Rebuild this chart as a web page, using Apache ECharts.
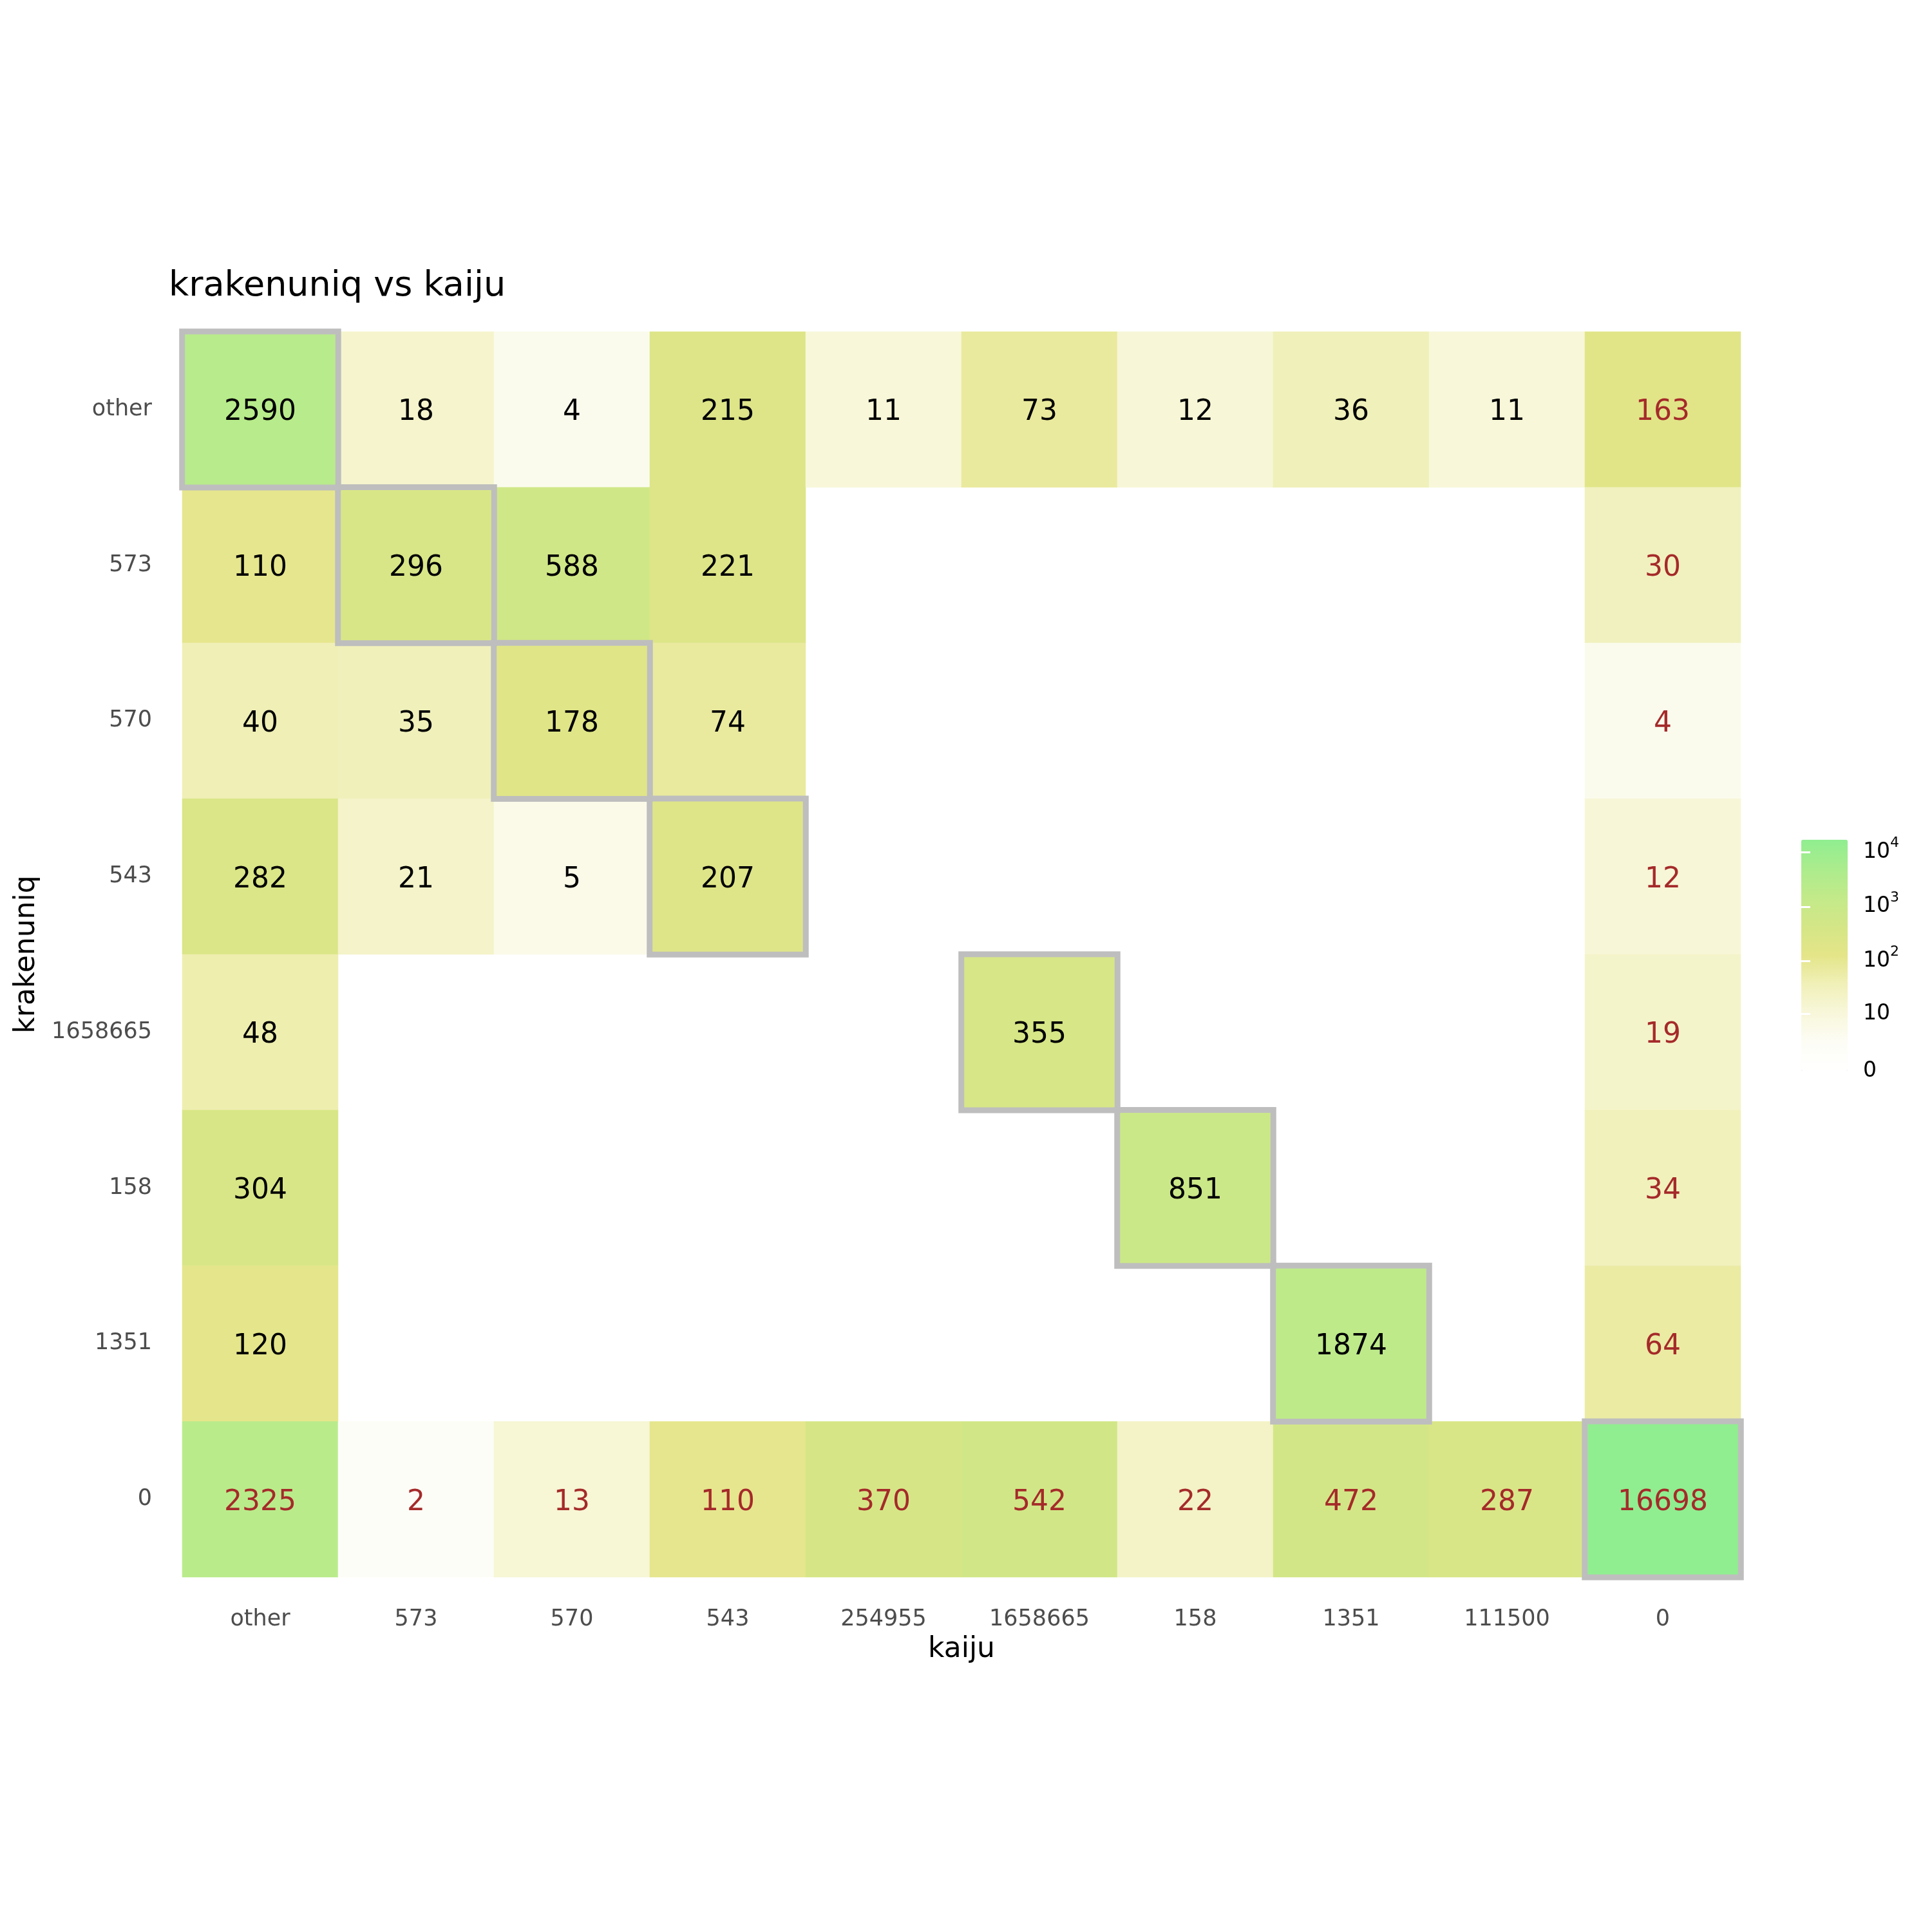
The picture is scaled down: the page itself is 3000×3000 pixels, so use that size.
<!DOCTYPE html>
<html>
<head>
<meta charset="utf-8">
<script src="https://cdn.jsdelivr.net/npm/echarts@6/dist/echarts.min.js"></script>
<style>
  html, body { margin: 0; padding: 0; background: #fff; }
  #chart { width: 3000px; height: 3000px; }
</style>
</head>
<body>
<div id="chart"></div>
<script>
// categories
var xCats = ['other', '573', '570', '543', '254955', '1658665', '158', '1351', '111500', '0'];
var yCats = ['other', '573', '570', '543', '1658665', '158', '1351', '0'];

// counts per krakenuniq row (null = no tile)
var rowOther   = [2590, 18, 4, 215, 11, 73, 12, 36, 11, 163];
var row573     = [110, 296, 588, 221, null, null, null, null, null, 30];
var row570     = [40, 35, 178, 74, null, null, null, null, null, 4];
var row543     = [282, 21, 5, 207, null, null, null, null, null, 12];
var row1658665 = [48, null, null, null, null, 355, null, null, null, 19];
var row158     = [304, null, null, null, null, null, 851, null, null, 34];
var row1351    = [120, null, null, null, null, null, null, 1874, null, 64];
var row0       = [2325, 2, 13, 110, 370, 542, 22, 472, 287, 16698];
var rows = [rowOther, row573, row570, row543, row1658665, row158, row1351, row0];

// legend ticks
var legendLabels = ['0', '10', '10^2', '10^3', '10^4'];
var legendCounts = [0, 10, 100, 1000, 10000];

var colorStops = ['#FFFFFF', '#FDFDF6', '#F8F7DB', '#F0F0B9', '#E4E588',
                  '#D4E687', '#C3EA89', '#ABEC8D', '#90EE90'];

function tr(v) { return Math.log10(v + 1); }

var cells = [];
var frames = [];
var maxT = 0;
for (var r = 0; r < rows.length; r++) {
    for (var c = 0; c < xCats.length; c++) {
        var v = rows[r][c];
        if (v === null) continue;
        var t = tr(v);
        if (t > maxT) maxT = t;
        var brown = (xCats[c] === '0' || yCats[r] === '0');
        cells.push({
            value: [c, r, t, v],
            label: { color: brown ? '#A52A2A' : '#000000' }
        });
        if (xCats[c] === yCats[r]) frames.push([c, r, t]);
    }
}

var legendPos = legendCounts.map(tr);
var legendMap = {};
legendPos.forEach(function (p, i) { legendMap[p.toFixed(6)] = legendLabels[i]; });

var chart = echarts.init(document.getElementById('chart'));
chart.setOption({
    animation: false,
    backgroundColor: '#ffffff',
    textStyle: { fontFamily: 'DejaVu Sans' },
    title: {
        text: 'krakenuniq vs kaiju',
        left: 257, top: 413,
        textStyle: { fontSize: 54, fontWeight: 'normal', color: '#000', fontFamily: 'DejaVu Sans' }
    },
    grid: [
        { left: 283, top: 515, width: 2420, height: 1934 },
        { left: 2797, top: 1304, width: 72, height: 359 }
    ],
    xAxis: [{
        type: 'category', data: xCats, gridIndex: 0,
        axisLine: { show: false }, axisTick: { show: false }, splitLine: { show: false },
        axisLabel: { fontSize: 35, color: '#4D4D4D', margin: 48 },
        name: 'kaiju', nameLocation: 'middle', nameGap: 91,
        nameTextStyle: { fontSize: 44, color: '#000' }
    }, {
        type: 'value', gridIndex: 1, show: false, min: 0, max: 1
    }],
    yAxis: [{
        type: 'category', data: yCats, inverse: true, gridIndex: 0,
        axisLine: { show: false }, axisTick: { show: false }, splitLine: { show: false },
        axisLabel: { fontSize: 35, color: '#4D4D4D', margin: 47, padding: [8, 0, 0, 0] },
        name: 'krakenuniq', nameLocation: 'middle', nameGap: 219,
        nameTextStyle: { fontSize: 44, color: '#000' }
    }, {
        type: 'value', gridIndex: 1, position: 'right', min: 0, max: maxT, z: 10,
        axisLine: { show: false }, splitLine: { show: false },
        axisTick: { show: true, inside: true, length: 14, customValues: legendPos.slice(1),
                    lineStyle: { color: '#ffffff', width: 3 } },
        axisLabel: {
            margin: 24, customValues: legendPos, color: '#000',
            formatter: function (val) {
                var s = legendMap[val.toFixed(6)] || '';
                var parts = s.split('^');
                if (parts.length === 2) return '{b|' + parts[0] + '}{s|' + parts[1] + '}';
                return '{b|' + s + '}';
            },
            rich: {
                b: { fontSize: 33, color: '#000', lineHeight: 50, fontFamily: 'DejaVu Sans' },
                s: { fontSize: 22, color: '#000', lineHeight: 22, verticalAlign: 'top', fontFamily: 'DejaVu Sans' }
            }
        }
    }, {
        type: 'value', gridIndex: 1, position: 'left', min: 0, max: maxT, z: 10,
        axisLine: { show: false }, splitLine: { show: false }, axisLabel: { show: false },
        axisTick: { show: true, inside: true, length: 14, customValues: legendPos.slice(1),
                    lineStyle: { color: '#ffffff', width: 3 } }
    }],
    visualMap: {
        type: 'continuous', seriesIndex: 0, dimension: 2,
        min: 0, max: maxT, calculable: false, orient: 'vertical',
        left: 2797, top: 1304, itemWidth: 72, itemHeight: 359, padding: 0,
        showLabel: false, text: null,
        inRange: { color: colorStops }
    },
    series: [{
        type: 'heatmap', xAxisIndex: 0, yAxisIndex: 0,
        data: cells,
        label: {
            show: true, fontSize: 44, fontFamily: 'DejaVu Sans', offset: [0, 5],
            formatter: function (p) { return String(p.data.value[3]); }
        },
        emphasis: { disabled: true }
    }, {
        type: 'heatmap', xAxisIndex: 0, yAxisIndex: 0, z: 5,
        data: frames,
        itemStyle: { color: 'rgba(0,0,0,0)', borderColor: '#BEBEBE', borderWidth: 9 },
        label: { show: false },
        emphasis: { disabled: true }
    }]
});
</script>
</body>
</html>
